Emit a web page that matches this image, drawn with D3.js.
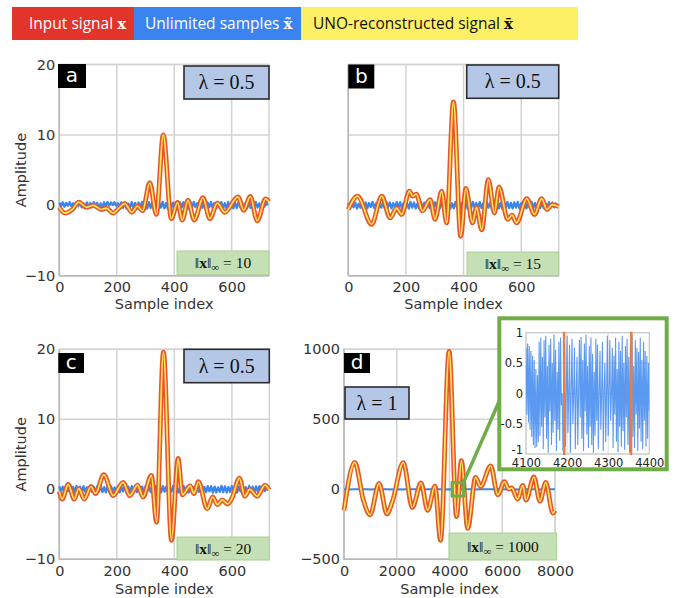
<!DOCTYPE html>
<html>
<head>
<meta charset="utf-8">
<script src="https://cdn.jsdelivr.net/npm/d3@7"></script>
<style>
  body { margin: 0; background: #fff; }
  svg { display: block; }
</style>
</head>
<body>
<svg id="fig" width="676" height="598"></svg>
<script>
// ---------- data ----------
// Input signal x: local extrema as [sample index, amplitude]
const inputA = [[0,-0.3],[20,-1.1],[45,-0.6],[68,0.45],[95,-0.3],[118,0.0],[147,-0.6],[164,-0.4],[187,-1.1],[208,-0.4],[228,0.25],[253,-1.0],[272,-0.1],[290,-0.8],[315,3.2],[338,-1.3],[362,10],[390,-1.9],[412,0.4],[428,-2.1],[448,0.7],[470,-2.1],[500,1.1],[524,-1.9],[550,0.3],[576,-1.0],[622,1.2],[642,-0.7],[665,1.25],[689,-2.2],[718,0.9],[730,0.5]];
const inputB = [[0,-0.6],[32,1.3],[81,-2.7],[116,1.3],[145,-1.8],[168,-0.4],[185,-1.3],[212,2.0],[224,1.3],[236,1.6],[257,-0.8],[284,0.8],[301,-2.0],[324,2.0],[341,-2.5],[365,14.7],[390,-4.4],[408,2.4],[431,-2.5],[445,-0.3],[463,-3.5],[486,3.65],[507,-1.1],[523,2.6],[553,-2.0],[568,-1.4],[584,-2.5],[619,0.95],[646,-1.3],[671,0.95],[689,-0.6],[708,0.1],[730,-0.2]];
const inputC = [[0,-0.3],[10,-1.4],[31,0.7],[52,-1.4],[68,0.1],[87,-1.4],[110,0.4],[126,-0.6],[155,2.1],[187,-0.9],[222,1.0],[245,-0.9],[272,0.6],[291,-1.1],[320,2.0],[338,-4.7],[362,19.6],[390,-7.3],[413,4.4],[428,-0.8],[455,0.5],[468,-0.6],[484,1.1],[514,-2.8],[533,-1.1],[550,-2.2],[566,-1.5],[585,-2.1],[601,-1.2],[626,1.6],[645,-1.0],[662,0.0],[688,-1.0],[715,0.6],[730,-0.1]];
const inputD = [[0,-150],[410,192],[730,-75],[990,-183],[1330,42],[1626,-176],[1830,-90],[2250,190],[2590,-130],[2920,46],[3170,-150],[3450,22],[3660,-365],[3985,985],[4265,-195],[4450,205],[4690,-279],[4990,85],[5180,20],[5563,168],[5830,-40],[6080,54],[6250,2],[6360,10],[6580,-70],[6780,28],[6900,-78],[7200,88],[7430,-85],[7650,50],[7920,-170],[8000,-150]];

// UNO recovers the input exactly, so the reconstruction follows the same samples
const reconA = inputA, reconB = inputB, reconC = inputC, reconD = inputD;

// Unlimited (folded) samples, one value every `unlimitedStep` samples
const unlimitedStep = 6;
const unlimitedA = [
  0.38,-0.12,0.42,-0.20,0.35,-0.05,0.45,-0.15,0.30,-0.22,0.40,-0.10,
  0.44,-0.30,0.25,-0.38,0.41,-0.18,0.33,-0.27,0.46,-0.12,0.36,-0.33,
  0.28,-0.41,0.43,-0.08,0.47,-0.02,0.39,0.05,0.44,-0.06,0.31,-0.24,
  0.42,-0.35,0.37,-0.44,0.26,-0.31,0.45,-0.40,0.34,-0.47,0.40,-0.36,
  0.48,-0.43,0.29,-0.46,0.44,-0.39,0.47,-0.28,0.36,-0.45,0.41,-0.33,
  0.49,-0.42,0.32,-0.48,0.45,-0.37,0.38,-0.46,0.27,-0.41,0.43,-0.30,
  0.46,-0.44,0.35,-0.49,0.40,-0.34,0.48,-0.26,0.31,-0.45,0.44,-0.38,
  0.37,-0.47,0.42,-0.29,0.47,-0.40,0.33,-0.46,0.39,-0.35,0.45,-0.43,
  0.30,-0.48,0.46,-0.32,0.41,-0.44,0.36,-0.39,0.48,-0.27,0.43,-0.46,
  0.34,-0.41,0.47,-0.36,0.39,-0.45,0.44,-0.31,0.28,-0.47,0.42,-0.20,
  0.36,0.05];
const unlimitedB = [
  0.30,-0.40,0.45,-0.28,0.38,-0.46,0.22,-0.35,0.47,-0.18,0.41,-0.44,
  0.33,-0.25,0.48,-0.39,0.27,-0.47,0.43,-0.32,0.36,-0.42,0.49,-0.21,
  0.40,-0.45,0.31,-0.37,0.46,-0.29,0.44,-0.48,0.35,-0.40,0.28,-0.46,
  0.47,-0.34,0.39,-0.43,0.24,-0.49,0.45,-0.30,0.37,-0.41,0.48,-0.38,
  0.32,-0.47,0.43,-0.26,0.49,-0.44,0.34,-0.39,0.46,-0.33,0.41,-0.48,
  0.29,-0.42,0.47,-0.36,0.38,-0.45,0.44,-0.27,0.35,-0.49,0.42,-0.40,
  0.48,-0.31,0.33,-0.46,0.45,-0.38,0.27,-0.44,0.49,-0.35,0.40,-0.47,
  0.36,-0.29,0.46,-0.43,0.31,-0.48,0.43,-0.37,0.47,-0.41,0.34,-0.45,
  0.42,-0.33,0.48,-0.46,0.30,-0.39,0.45,-0.44,0.37,-0.28,0.49,-0.42,
  0.33,-0.47,0.41,-0.36,0.46,-0.40,0.28,-0.45,0.44,-0.34,0.39,-0.30,
  0.25,-0.10];
const unlimitedC = [
  0.42,-0.31,0.36,-0.45,0.48,-0.27,0.40,-0.43,0.33,-0.38,0.46,-0.22,
  0.39,-0.47,0.44,-0.35,0.29,-0.41,0.47,-0.33,0.37,-0.46,0.43,-0.28,
  0.49,-0.40,0.32,-0.44,0.45,-0.36,0.41,-0.48,0.26,-0.39,0.47,-0.43,
  0.35,-0.30,0.48,-0.45,0.40,-0.37,0.44,-0.47,0.31,-0.42,0.46,-0.34,
  0.38,-0.49,0.43,-0.29,0.47,-0.41,0.34,-0.46,0.49,-0.38,0.30,-0.44,
  0.45,-0.35,0.41,-0.48,0.36,-0.32,0.47,-0.43,0.28,-0.46,0.44,-0.39,
  0.49,-0.33,0.37,-0.47,0.42,-0.40,0.32,-0.45,0.48,-0.36,0.40,-0.49,
  0.35,-0.41,0.46,-0.30,0.43,-0.47,0.38,-0.44,0.27,-0.37,0.49,-0.42,
  0.41,-0.46,0.33,-0.39,0.47,-0.35,0.44,-0.48,0.36,-0.31,0.45,-0.43,
  0.30,-0.47,0.48,-0.38,0.39,-0.45,0.42,-0.34,0.46,-0.40,0.35,-0.26,
  0.20,-0.05];
const unlimitedStepD = 200;
const unlimitedD = [0.4,-0.7,0.9,-0.3,0.6,-0.8,0.2,-0.5,0.7,-0.9,0.3,-0.6,0.8,-0.2,0.5,-0.7,0.9,-0.4,0.6,-0.8,0.1,-0.6,0.8,-0.3,0.7,-0.9,0.4,-0.5,0.6,-0.2,0.9,-0.7,0.3,-0.8,0.5,-0.4,0.7,-0.6,0.2,-0.3,0.1];

// Close-up of the unlimited samples of (d), one value every 2 samples from 4100
const zoomStart = 4100, zoomStep = 2;
const unlimitedZoom = [
  0.75,-0.35,0.82,-0.48,0.78,-0.60,0.70,-0.72,0.62,-0.85,0.55,-0.90,0.40,-0.88,0.30,-0.80,0.85,-0.70,0.92,-0.55,
  0.60,-0.92,0.88,-0.40,0.95,-0.75,0.45,-0.98,0.80,-0.30,0.90,-0.85,0.50,-0.65,0.97,-0.45,0.72,-0.95,0.35,-0.60,
  0.85,-0.78,0.92,-0.20,0.0,-0.95,0.0,0.70,-0.88,0.0,0.95,-0.65,0.0,0.80,-0.98,0.0,0.90,-0.50,0.0,0.75,
  -0.92,0.0,0.60,-0.85,0.0,0.88,-0.40,0.93,-0.75,0.55,-0.95,0.82,-0.30,0.97,-0.68,0.45,-0.90,0.78,-0.55,0.92,
  -0.85,0.65,-0.98,0.35,-0.70,0.90,-0.45,0.80,-0.92,0.0,0.70,-0.60,0.0,0.85,-0.95,0.0,0.50,-0.80,0.0,0.95,
  -0.70,0.0,0.88,-0.45,0.0,0.75,-0.90,0.62,-0.35,0.92,-0.80,0.40,-0.97,0.85,-0.55,0.70,-0.88,0.95,-0.62,0.50,
  -0.93,0.78,-0.40,0.90,-0.85,0.60,-0.98,0.82,-0.50,0.96,-0.72,0.45,-0.90,0.88,-0.35,0.75,-0.95,0.68,-0.58,0.92,
  -0.80,0.55,-0.92,0.85,-0.45,0.70,-0.88,0.62,-0.75,0.50,-0.30];
const zoomXDomain = [4100, 4400];
const zoomYDomain = [-1, 1];
const zoomXTicks = [4100, 4200, 4300, 4400];
const zoomYTicks = [-1, -0.5, 0, 0.5, 1];
// Window marked on panel (d)
const zoomWindowX = [4100, 4530];
const zoomWindowY = [-48, 48];

// Tick values and labels
const xTicksShort = [0, 200, 400, 600];
const xTicksLong = [0, 2000, 4000, 6000, 8000];
const yTicksShort = [-10, 0, 10, 20];
const yTicksLong = [-500, 0, 500, 1000];
const panelLetters = ['a', 'b', 'c', 'd'];
const lambdaValues = ['0.5', '0.5', '0.5', '1'];
const normValues = ['10', '15', '20', '1000'];
const legendLabels = ['Input signal ', 'Unlimited samples ', 'UNO-reconstructed signal '];
const legendSymbols = ['x', 'x\u0303', 'x\u0304'];

// ---------- styling / layout ----------
const COL = {
  red: '#e2342a', blue: '#3b84ef', yellow: '#fdf066',
  orange: '#e5572b', core: '#ffe35c', trace: '#3a86f0',
  grid: '#d3d3d3', frame: '#b8b8b8', tick: '#333',
  lamFill: '#b4c7e7', normFill: '#c5e0b4', normStroke: '#a9cf90', green: '#70ad47'
};
const SANS = 'DejaVu Sans, sans-serif';
const SERIF = 'Liberation Serif, DejaVu Serif, serif';

const panels = [
  { input: inputA, recon: reconA, unl: unlimitedA, step: unlimitedStep,
    xDomain: [0, 730], yDomain: [-10, 20], xTicks: xTicksShort, yTicks: yTicksShort, yLabels: true,
    frame: { left: 59.3, right: 269, top: 64.5, bottom: 275.7 },
    letterBox: [58, 64, 28, 24], lamBox: [184, 66, 85, 33], normBox: [177, 251, 92, 24], titleY: 309 },
  { input: inputB, recon: reconB, unl: unlimitedB, step: unlimitedStep,
    xDomain: [0, 730], yDomain: [-10, 20], xTicks: xTicksShort, yTicks: yTicksShort, yLabels: false,
    frame: { left: 348.3, right: 558.7, top: 64.5, bottom: 275.7 },
    letterBox: [348.3, 64.5, 26, 24], lamBox: [466.7, 65, 92, 33.3], normBox: [467, 252, 91.7, 23.7], titleY: 309 },
  { input: inputC, recon: reconC, unl: unlimitedC, step: unlimitedStep,
    xDomain: [0, 730], yDomain: [-10, 20], xTicks: xTicksShort, yTicks: yTicksShort, yLabels: true,
    frame: { left: 59.3, right: 269.3, top: 349.3, bottom: 559.3 },
    letterBox: [58.3, 353, 25.7, 20], lamBox: [184, 349.3, 85.3, 33.4], normBox: [177, 537, 92.3, 23], titleY: 593.5 },
  { input: inputD, recon: reconD, unl: unlimitedD, step: unlimitedStepD,
    xDomain: [0, 8000], yDomain: [-500, 1000], xTicks: xTicksLong, yTicks: yTicksLong, yLabels: true,
    frame: { left: 344, right: 555, top: 349.3, bottom: 559.3 },
    letterBox: [344, 353, 26, 20], lamBox: [345, 387, 64, 32], normBox: [449, 533, 107.7, 27], titleY: 593.5 }
];

const svg = d3.select('#fig');

// ---------- legend ----------
const legendBoxes = [[12, 122], [134, 167], [301, 277]];
const legendFills = [COL.red, COL.blue, COL.yellow];
const legendInk = ['#fff', '#fff', '#111'];
const legendPad = [17, 11, 12];
const leg = svg.append('g');
legendLabels.forEach((lab, i) => {
  const [bx, bw] = legendBoxes[i];
  leg.append('rect').attr('x', bx).attr('y', 7).attr('width', bw).attr('height', 33).attr('fill', legendFills[i]);
  const t = leg.append('text').attr('x', bx + legendPad[i]).attr('y', 29)
    .attr('font-family', 'Open Sans, sans-serif').attr('font-size', 15.5).attr('fill', legendInk[i]);
  t.append('tspan').text(lab);
  t.append('tspan').attr('font-family', 'DejaVu Serif, serif').attr('font-weight', 'bold').attr('font-size', 15).text(legendSymbols[i]);
});

// ---------- panels ----------
const scalesD = {};
panels.forEach((p, k) => {
  const F = p.frame;
  const x = d3.scaleLinear().domain(p.xDomain).range([F.left, F.right]);
  const y = d3.scaleLinear().domain(p.yDomain).range([F.bottom, F.top]);
  if (k === 3) { scalesD.x = x; scalesD.y = y; }
  const g = svg.append('g');

  // grid
  g.selectAll('line.gx').data(p.xTicks).join('line').attr('class', 'gx')
    .attr('x1', d => x(d)).attr('x2', d => x(d)).attr('y1', F.top).attr('y2', F.bottom)
    .attr('stroke', COL.grid).attr('stroke-width', 1.5);
  g.selectAll('line.gy').data(p.yTicks).join('line').attr('class', 'gy')
    .attr('y1', d => y(d)).attr('y2', d => y(d)).attr('x1', F.left).attr('x2', F.right)
    .attr('stroke', COL.grid).attr('stroke-width', 1.5);
  g.append('rect').attr('x', F.left).attr('y', F.top).attr('width', F.right - F.left).attr('height', F.bottom - F.top)
    .attr('fill', 'none').attr('stroke', COL.grid).attr('stroke-width', 1.5);
  // left and bottom axis lines
  g.append('line').attr('x1', F.left).attr('x2', F.left).attr('y1', F.top).attr('y2', F.bottom)
    .attr('stroke', COL.frame).attr('stroke-width', 1.5);
  g.append('line').attr('x1', F.left).attr('x2', F.right).attr('y1', F.bottom).attr('y2', F.bottom)
    .attr('stroke', COL.frame).attr('stroke-width', 1.5);

  // tick labels
  const xa = g.append('g').attr('transform', `translate(0,${F.bottom})`)
    .call(d3.axisBottom(x).tickValues(p.xTicks).tickSize(0).tickPadding(6).tickFormat(d3.format('d')));
  xa.select('.domain').remove();
  xa.attr('font-family', SANS).attr('font-size', 14.5).selectAll('text').attr('fill', COL.tick);
  if (p.yLabels) {
    const ya = g.append('g').attr('transform', `translate(${F.left},0)`)
      .call(d3.axisLeft(y).tickValues(p.yTicks).tickSize(0).tickPadding(4).tickFormat(d3.format('d')));
    ya.select('.domain').remove();
    ya.attr('font-family', SANS).attr('font-size', 14.5).selectAll('text').attr('fill', COL.tick);
  }

  // axis titles
  g.append('text').attr('x', (F.left + F.right) / 2).attr('y', p.titleY).attr('text-anchor', 'middle')
    .attr('font-family', SANS).attr('font-size', 14.5).attr('fill', COL.tick).text('Sample index');
  if (k % 2 === 0) {
    g.append('text').attr('transform', `translate(26,${(F.top + F.bottom) / 2}) rotate(-90)`)
      .attr('text-anchor', 'middle').attr('font-family', SANS).attr('font-size', 14.5).attr('fill', COL.tick)
      .text('Amplitude');
  }

  // unlimited samples
  const unlLine = d3.line().x((d, i) => x(i * p.step)).y(d => y(d));
  g.append('path').datum(p.unl).attr('d', unlLine).attr('fill', 'none')
    .attr('stroke', COL.trace).attr('stroke-width', k === 3 ? 2 : 2.3).attr('stroke-linejoin', 'round');

  // input signal (orange) and reconstruction (yellow core)
  const sig = d3.line().x(d => x(d[0])).y(d => y(d[1])).curve(d3.curveMonotoneX);
  g.append('path').datum(p.input).attr('d', sig).attr('fill', 'none')
    .attr('stroke', COL.orange).attr('stroke-width', 4.8).attr('stroke-linejoin', 'round');
  g.append('path').datum(p.recon).attr('d', sig).attr('fill', 'none')
    .attr('stroke', COL.core).attr('stroke-width', 1.7).attr('stroke-linejoin', 'round');

  // panel letter
  const [lx, ly, lw, lh] = p.letterBox;
  g.append('rect').attr('x', lx).attr('y', ly).attr('width', lw).attr('height', lh).attr('fill', '#000');
  g.append('text').attr('x', lx + lw / 2).attr('y', ly + lh / 2 + 6).attr('text-anchor', 'middle')
    .attr('font-family', SANS).attr('font-size', 20).attr('fill', '#fff').text(panelLetters[k]);

  // lambda box
  const [ax, ay, aw, ah] = p.lamBox;
  g.append('rect').attr('x', ax).attr('y', ay).attr('width', aw).attr('height', ah)
    .attr('fill', COL.lamFill).attr('stroke', '#2b2b2b').attr('stroke-width', 1.6);
  g.append('text').attr('x', ax + aw / 2).attr('y', ay + ah / 2 + 6.5).attr('text-anchor', 'middle')
    .attr('font-family', SERIF).attr('font-size', 20).attr('fill', '#111')
    .text('\u03bb = ' + lambdaValues[k]);

  // norm box
  const [nx, ny, nw, nh] = p.normBox;
  g.append('rect').attr('x', nx).attr('y', ny).attr('width', nw).attr('height', nh)
    .attr('fill', COL.normFill).attr('stroke', COL.normStroke).attr('stroke-width', 1);
  const nt = g.append('text').attr('x', nx + nw / 2).attr('y', ny + nh / 2 + 5).attr('text-anchor', 'middle')
    .attr('font-family', SERIF).attr('font-size', 15.5).attr('fill', '#111');
  nt.append('tspan').text('\u2016');
  nt.append('tspan').attr('font-weight', 'bold').text('x');
  nt.append('tspan').text('\u2016');
  nt.append('tspan').attr('font-size', 11).attr('dy', 3).text('\u221e');
  nt.append('tspan').attr('dy', -3).text(' = ' + normValues[k]);
});

// ---------- zoom window on (d) and close-up ----------
const xD = scalesD.x, yD = scalesD.y;
svg.append('rect').attr('x', xD(zoomWindowX[0])).attr('y', yD(zoomWindowY[1]))
  .attr('width', xD(zoomWindowX[1]) - xD(zoomWindowX[0])).attr('height', yD(zoomWindowY[0]) - yD(zoomWindowY[1]))
  .attr('fill', 'none').attr('stroke', COL.green).attr('stroke-width', 3);

const inset = { x: 499.3, y: 318.3, w: 167.4, h: 151, left: 526, right: 649.3, top: 332.7, bottom: 454 };
svg.append('line').attr('x1', xD(zoomWindowX[1])).attr('y1', yD(zoomWindowY[1]))
  .attr('x2', inset.x + 2).attr('y2', 396.5).attr('stroke', COL.green).attr('stroke-width', 3.5);

const ig = svg.append('g');
ig.append('rect').attr('x', inset.x).attr('y', inset.y).attr('width', inset.w).attr('height', inset.h)
  .attr('fill', '#fff').attr('stroke', COL.green).attr('stroke-width', 4);
const ix = d3.scaleLinear().domain(zoomXDomain).range([inset.left, inset.right]);
const iy = d3.scaleLinear().domain(zoomYDomain).range([inset.bottom, inset.top]);
ig.selectAll('line.igx').data(zoomXTicks).join('line')
  .attr('x1', d => ix(d)).attr('x2', d => ix(d)).attr('y1', inset.top).attr('y2', inset.bottom)
  .attr('stroke', '#dadada').attr('stroke-width', 1);
ig.selectAll('line.igy').data(zoomYTicks).join('line')
  .attr('y1', d => iy(d)).attr('y2', d => iy(d)).attr('x1', inset.left).attr('x2', inset.right)
  .attr('stroke', '#dadada').attr('stroke-width', 1);
ig.append('rect').attr('x', inset.left).attr('y', inset.top).attr('width', inset.right - inset.left)
  .attr('height', inset.bottom - inset.top).attr('fill', 'none').attr('stroke', '#c4c4c4').attr('stroke-width', 1);

svg.append('defs').append('clipPath').attr('id', 'insetClip').append('rect')
  .attr('x', inset.left).attr('y', inset.top - 1).attr('width', inset.right - inset.left).attr('height', inset.bottom - inset.top + 2);
const plotArea = ig.append('g').attr('clip-path', 'url(#insetClip)');
plotArea.append('path').datum(unlimitedZoom)
  .attr('d', d3.line().x((d, i) => ix(zoomStart + i * zoomStep)).y(d => iy(d)))
  .attr('fill', 'none').attr('stroke', '#4a8ff0').attr('stroke-width', 1.1).attr('stroke-opacity', 0.9);
plotArea.append('path').datum(inputD)
  .attr('d', d3.line().x(d => ix(d[0])).y(d => iy(d[1])).curve(d3.curveMonotoneX))
  .attr('fill', 'none').attr('stroke', '#ec7b45').attr('stroke-width', 2.5);

const ixa = ig.append('g').attr('transform', `translate(0,${inset.bottom})`)
  .call(d3.axisBottom(ix).tickValues(zoomXTicks).tickSize(0).tickPadding(5).tickFormat(d3.format('d')));
ixa.select('.domain').remove();
ixa.attr('font-family', SANS).attr('font-size', 11.5).selectAll('text').attr('fill', '#222');
const iya = ig.append('g').attr('transform', `translate(${inset.left},0)`)
  .call(d3.axisLeft(iy).tickValues(zoomYTicks).tickSize(0).tickPadding(3).tickFormat(d => String(d)));
iya.select('.domain').remove();
iya.attr('font-family', SANS).attr('font-size', 11.5).selectAll('text').attr('fill', '#222');
// lift the bottom y label clear of the first x label
iya.selectAll('.tick').filter(d => d === zoomYDomain[0]).select('text').attr('dy', '-0.05em');
</script>
</body>
</html>
